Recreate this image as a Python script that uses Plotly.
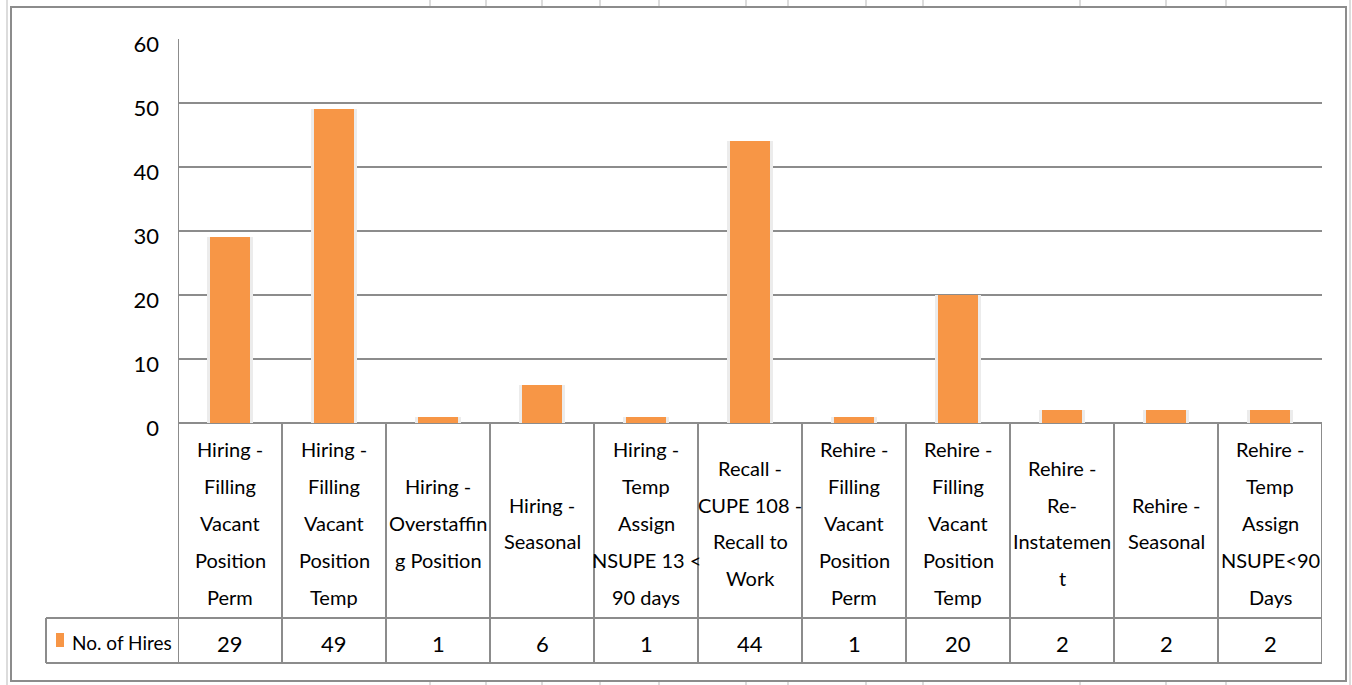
import plotly.graph_objects as go

# ---------------- data ----------------
categories = [
    "Hiring - Filling Vacant Position Perm",
    "Hiring - Filling Vacant Position Temp",
    "Hiring - Overstaffing Position",
    "Hiring - Seasonal",
    "Hiring - Temp Assign NSUPE 13 < 90 days",
    "Recall - CUPE 108 - Recall to Work",
    "Rehire - Filling Vacant Position Perm",
    "Rehire - Filling Vacant Position Temp",
    "Rehire - Re-Instatement",
    "Rehire - Seasonal",
    "Rehire - Temp Assign NSUPE<90 Days",
]
label_lines = [
    ["Hiring -", "Filling", "Vacant", "Position", "Perm"],
    ["Hiring -", "Filling", "Vacant", "Position", "Temp"],
    ["Hiring -", "Overstaffin", "g Position"],
    ["Hiring -", "Seasonal"],
    ["Hiring -", "Temp", "Assign", "NSUPE 13 <", "90 days"],
    ["Recall -", "CUPE 108 -", "Recall to", "Work"],
    ["Rehire -", "Filling", "Vacant", "Position", "Perm"],
    ["Rehire -", "Filling", "Vacant", "Position", "Temp"],
    ["Rehire -", "Re-", "Instatemen", "t"],
    ["Rehire -", "Seasonal"],
    ["Rehire -", "Temp", "Assign", "NSUPE<90", "Days"],
]
hires = [29, 49, 1, 6, 1, 44, 1, 20, 2, 2, 2]
series_name = "No. of Hires"
y_ticks = [0, 10, 20, 30, 40, 50, 60]

# ---------------- styling ----------------
W, H = 1352, 685
L, R, T, B = 178, 1322, 39, 423
ORANGE = "#F79646"
GRID = "#8c8c8c"
FAINT = "#dcdcdc"
FONT = "Lato, Liberation Sans, Arial, sans-serif"


def px(x):
    return (x - L) / (R - L)


def py(y):
    return (B - y) / (B - T)


def esc(s):
    return s.replace("<", "&lt;")


fig = go.Figure()
# soft shadow behind bars
fig.add_trace(go.Bar(x=categories, y=hires, width=0.44, marker=dict(color="#ececec", line=dict(width=0)),
                     hoverinfo="skip", showlegend=False))
fig.add_trace(go.Bar(x=categories, y=hires, width=0.39, marker=dict(color=ORANGE, line=dict(width=0)),
                     name=series_name, showlegend=False))

shapes = []
line = dict(color=GRID, width=2)
n = len(categories)
# table vertical lines
for i in range(n + 1):
    y_top = py(T) if i == 0 else py(B)
    shapes.append(dict(type="line", xref="x", yref="paper", x0=i - 0.5, x1=i - 0.5,
                       y0=y_top, y1=py(663), line=line))
# table horizontal lines
for yy in (618, 663):
    shapes.append(dict(type="line", xref="paper", yref="paper", x0=px(46), x1=px(R),
                       y0=py(yy), y1=py(yy), line=line))
shapes.append(dict(type="line", xref="paper", yref="paper", x0=px(46), x1=px(46),
                   y0=py(618), y1=py(663), line=line))
# legend key
shapes.append(dict(type="rect", xref="paper", yref="paper", x0=px(56), x1=px(64),
                   y0=py(647), y1=py(633), fillcolor=ORANGE, line=dict(width=0)))
# outer chart border
shapes.append(dict(type="rect", xref="paper", yref="paper", x0=px(11), x1=px(1346),
                   y0=py(681), y1=py(7), line=dict(color=GRID, width=2)))
# faint spreadsheet gridlines around the chart
shapes.append(dict(type="line", xref="paper", yref="paper", x0=px(7), x1=px(7),
                   y0=py(0), y1=py(685), line=dict(color=FAINT, width=2)))
shapes.append(dict(type="line", xref="paper", yref="paper", x0=px(1350), x1=px(1350),
                   y0=py(0), y1=py(685), line=dict(color=FAINT, width=2)))
for xx in [430, 486, 542, 600, 659, 746, 788, 866, 923, 1080, 1166, 1226]:
    shapes.append(dict(type="line", xref="paper", yref="paper", x0=px(xx), x1=px(xx),
                       y0=py(0), y1=py(6), line=dict(color=FAINT, width=2)))
    shapes.append(dict(type="line", xref="paper", yref="paper", x0=px(xx), x1=px(xx),
                       y0=py(682), y1=py(685), line=dict(color=FAINT, width=2)))

annotations = []
LINE_H = 36.8
CELL_MID = 523
for cat, lines_ in zip(categories, label_lines):
    k = len(lines_)
    for j, txt in enumerate(lines_):
        yc = CELL_MID + (j - (k - 1) / 2) * LINE_H
        annotations.append(dict(x=cat, xref="x", y=py(yc), yref="paper", text=esc(txt),
                                showarrow=False, xanchor="center", yanchor="middle",
                                font=dict(family=FONT, size=20, color="black")))
for cat, v in zip(categories, hires):
    annotations.append(dict(x=cat, xref="x", y=py(643), yref="paper", text=str(v),
                            showarrow=False, xanchor="center", yanchor="middle",
                            font=dict(family=FONT, size=22, color="black")))
annotations.append(dict(x=px(70), xref="paper", y=py(642), yref="paper", text=series_name,
                        showarrow=False, xanchor="left", yanchor="middle",
                        font=dict(family=FONT, size=19, color="black")))

fig.update_layout(
    width=W, height=H, autosize=False,
    margin=dict(l=L, r=W - R, t=T, b=H - B),
    paper_bgcolor="white", plot_bgcolor="white",
    barmode="overlay", bargap=0, showlegend=False,
    font=dict(family=FONT, size=22, color="black"),
    xaxis=dict(showticklabels=False, showgrid=False, zeroline=False, showline=False,
               range=[-0.5, n - 0.5], fixedrange=True),
    yaxis=dict(range=[0, 60], tickvals=y_ticks, showgrid=True, gridcolor=GRID, gridwidth=2,
               zeroline=True, zerolinecolor=GRID, zerolinewidth=2, showline=False,
               ticks="", ticklabelstandoff=18, ticklabelshift=5,
               tickfont=dict(family=FONT, size=22, color="black"), fixedrange=True),
    shapes=shapes, annotations=annotations,
)

fig.write_html("out.html")
